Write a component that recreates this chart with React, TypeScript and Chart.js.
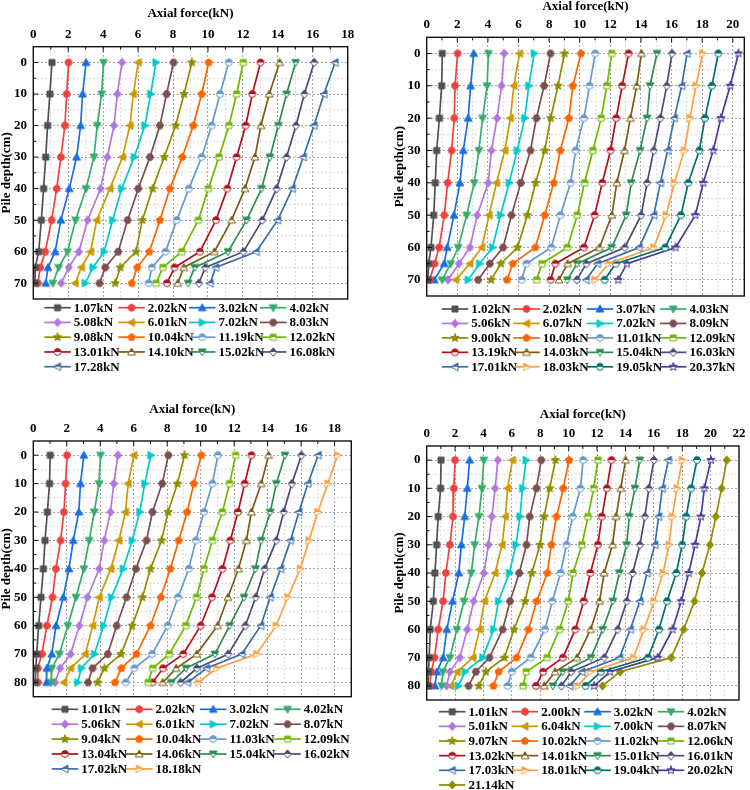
import { useEffect, useRef } from 'react';
import { Chart, registerables } from 'chart.js';

Chart.register(...registerables);

const SERIF = "'Liberation Serif', 'Times New Roman', serif";

// measuring stations along the pile (cm)
const depth70 = [0, 10, 20, 30, 40, 50, 60, 65, 70];
const depth80 = [0, 10, 20, 30, 40, 50, 60, 70, 75, 80];

// pile-top load steps (kN) and axial force profiles (kN), test A
const loadsA = [1.07, 2.02, 3.02, 4.02, 5.08, 6.01, 7.02, 8.03, 9.08, 10.04, 11.19, 12.02, 13.01, 14.10, 15.02, 16.08, 17.28];
const forceA = [
  [1.07, 0.95, 0.82, 0.71, 0.59, 0.46, 0.31, 0.11, 0.10],
  [2.02, 1.91, 1.81, 1.58, 1.34, 1.05, 0.68, 0.40, 0.26],
  [3.02, 2.82, 2.71, 2.48, 2.06, 1.58, 1.25, 0.84, 0.71],
  [4.02, 3.91, 3.66, 3.47, 3.02, 2.42, 1.96, 1.45, 1.12],
  [5.08, 4.81, 4.62, 4.24, 3.85, 3.11, 2.61, 2.03, 1.60],
  [6.01, 5.73, 5.53, 5.11, 4.39, 3.63, 3.28, 2.75, 2.40],
  [7.02, 6.72, 6.39, 5.78, 5.06, 4.54, 4.05, 3.42, 2.97],
  [8.03, 7.63, 7.25, 6.68, 6.01, 5.40, 4.86, 4.12, 3.79],
  [9.08, 8.63, 8.15, 7.50, 6.83, 6.24, 5.88, 4.98, 4.69],
  [10.04, 9.64, 9.16, 8.53, 7.82, 7.25, 6.64, 5.95, 5.64],
  [11.19, 10.69, 10.21, 9.64, 8.91, 8.21, 7.57, 6.79, 6.60],
  [12.02, 11.64, 11.20, 10.63, 10.02, 9.45, 8.50, 7.42, 7.03],
  [13.01, 12.54, 12.16, 11.64, 11.11, 10.46, 9.54, 8.09, 7.65],
  [14.10, 13.51, 13.03, 12.69, 12.12, 11.35, 10.37, 8.61, 8.27],
  [15.02, 14.50, 14.03, 13.55, 13.07, 12.21, 11.15, 9.24, 8.87],
  [16.08, 15.52, 15.04, 14.50, 13.93, 13.11, 12.03, 9.85, 9.48],
  [17.28, 16.64, 16.07, 15.46, 14.83, 13.99, 12.76, 10.44, 10.12],
];

// test B
const loadsB = [1.02, 2.02, 3.07, 4.03, 5.06, 6.07, 7.02, 8.09, 9.00, 10.08, 11.01, 12.09, 13.19, 14.03, 15.04, 16.03, 17.01, 18.03, 19.05, 20.37];
const forceB = [
  [1.02, 0.98, 0.83, 0.65, 0.56, 0.46, 0.28, 0.13, 0.08],
  [2.02, 1.85, 1.80, 1.63, 1.37, 1.15, 0.81, 0.51, 0.20],
  [3.07, 2.87, 2.71, 2.39, 2.17, 1.78, 1.34, 1.14, 0.49],
  [4.03, 3.95, 3.65, 3.41, 3.11, 2.61, 2.06, 1.57, 1.01],
  [5.06, 4.89, 4.60, 4.23, 4.02, 3.30, 2.82, 2.11, 1.39],
  [6.07, 5.69, 5.47, 5.10, 4.56, 4.08, 3.60, 2.82, 1.90],
  [7.02, 6.67, 6.41, 5.91, 5.39, 4.82, 4.30, 3.45, 2.71],
  [8.09, 7.67, 7.17, 6.78, 6.15, 5.54, 4.99, 4.12, 3.36],
  [9.00, 8.58, 8.10, 7.71, 7.12, 6.58, 5.93, 4.84, 4.21],
  [10.08, 9.55, 9.29, 8.73, 8.30, 7.71, 7.10, 5.62, 5.25],
  [11.01, 10.64, 10.27, 9.73, 9.40, 8.73, 8.14, 6.51, 6.21],
  [12.09, 11.77, 11.40, 10.86, 10.31, 9.84, 9.19, 7.53, 7.19],
  [13.19, 12.77, 12.38, 12.01, 11.47, 10.97, 10.27, 8.41, 8.09],
  [14.03, 13.72, 13.31, 12.92, 12.42, 12.10, 11.29, 9.21, 8.64],
  [15.04, 14.59, 14.40, 13.94, 13.36, 13.03, 12.09, 9.82, 9.19],
  [16.03, 15.68, 15.27, 14.83, 14.40, 14.01, 12.94, 10.43, 9.81],
  [17.01, 16.66, 16.18, 15.74, 15.27, 14.83, 13.88, 11.16, 10.42],
  [18.03, 17.59, 17.20, 16.83, 16.18, 15.64, 14.83, 11.88, 10.99],
  [19.05, 18.63, 18.18, 17.81, 17.09, 16.61, 15.58, 12.35, 11.62],
  [20.37, 19.83, 19.22, 18.72, 18.07, 17.55, 16.26, 13.08, 12.51],
];

// test C
const loadsC = [1.01, 2.02, 3.02, 4.02, 5.06, 6.01, 7.02, 8.07, 9.04, 10.04, 11.03, 12.09, 13.04, 14.06, 15.04, 16.02, 17.02, 18.18];
const forceC = [
  [1.01, 0.97, 0.84, 0.70, 0.60, 0.46, 0.32, 0.20, 0.15, 0.12],
  [2.02, 1.93, 1.83, 1.63, 1.35, 1.15, 0.81, 0.51, 0.27, 0.27],
  [3.02, 2.82, 2.72, 2.39, 2.13, 1.79, 1.36, 1.10, 0.81, 0.79],
  [4.02, 3.92, 3.64, 3.34, 3.02, 2.55, 2.06, 1.56, 1.10, 1.08],
  [5.06, 4.81, 4.61, 4.24, 3.94, 3.24, 2.75, 2.23, 1.60, 1.30],
  [6.01, 5.67, 5.51, 5.11, 4.63, 3.94, 3.55, 3.11, 2.23, 1.83],
  [7.02, 6.66, 6.36, 5.91, 5.37, 4.67, 4.20, 3.65, 2.87, 2.65],
  [8.07, 7.70, 7.12, 6.76, 6.13, 5.57, 4.98, 4.45, 3.54, 3.27],
  [9.04, 8.61, 8.05, 7.66, 7.00, 6.52, 5.91, 5.24, 4.25, 3.84],
  [10.04, 9.59, 9.19, 8.69, 8.19, 7.62, 7.00, 6.16, 5.26, 4.88],
  [11.03, 10.70, 10.20, 9.71, 9.29, 8.65, 8.03, 7.10, 6.04, 5.52],
  [12.09, 11.73, 11.30, 10.70, 10.20, 9.75, 9.11, 8.12, 7.13, 6.86],
  [13.04, 12.63, 12.23, 11.77, 11.30, 10.68, 10.00, 8.96, 7.75, 7.13],
  [14.06, 13.62, 13.03, 12.73, 12.26, 11.63, 11.01, 9.76, 8.54, 7.73],
  [15.04, 14.52, 14.16, 13.62, 13.27, 12.59, 11.73, 10.85, 9.12, 8.24],
  [16.02, 15.45, 14.96, 14.52, 13.82, 13.29, 12.67, 11.65, 9.78, 8.80],
  [17.02, 16.41, 15.87, 15.37, 14.78, 14.16, 13.59, 12.46, 10.35, 9.22],
  [18.18, 17.60, 17.00, 16.47, 15.95, 15.21, 14.51, 13.34, 10.95, 9.86],
];

// test D
const loadsD = [1.01, 2.00, 3.02, 4.02, 5.01, 6.04, 7.00, 8.07, 9.07, 10.02, 11.02, 12.06, 13.02, 14.01, 15.01, 16.01, 17.03, 18.01, 19.04, 20.02, 21.14];
const forceD = [
  [1.01, 0.98, 0.81, 0.70, 0.58, 0.47, 0.25, 0.18, 0.12, 0.10],
  [2.00, 1.91, 1.86, 1.63, 1.35, 1.16, 0.81, 0.55, 0.32, 0.21],
  [3.02, 2.86, 2.68, 2.44, 2.26, 1.82, 1.42, 1.16, 0.71, 0.58],
  [4.02, 3.89, 3.68, 3.38, 3.14, 2.63, 2.12, 1.63, 1.14, 1.05],
  [5.01, 4.82, 4.59, 4.35, 4.03, 3.31, 2.86, 2.33, 1.63, 1.40],
  [6.04, 5.70, 5.54, 5.31, 4.82, 4.07, 3.72, 3.26, 2.15, 1.70],
  [7.00, 6.75, 6.57, 6.29, 5.82, 5.05, 4.71, 3.95, 2.70, 2.22],
  [8.07, 7.73, 7.26, 7.03, 6.52, 5.87, 5.35, 4.42, 3.46, 2.95],
  [9.07, 8.66, 8.27, 7.99, 7.40, 6.92, 6.15, 5.47, 4.16, 3.67],
  [10.02, 9.62, 9.15, 8.78, 8.50, 7.75, 7.17, 6.33, 5.07, 4.70],
  [11.02, 10.83, 10.29, 9.85, 9.43, 8.85, 8.33, 7.33, 6.00, 5.70],
  [12.06, 11.76, 11.36, 10.94, 10.31, 9.97, 9.36, 8.49, 7.01, 6.79],
  [13.02, 12.69, 12.34, 12.06, 11.53, 11.06, 10.47, 9.59, 8.20, 7.70],
  [14.01, 13.67, 13.34, 13.09, 12.50, 12.18, 11.55, 10.59, 9.05, 8.28],
  [15.01, 14.67, 14.27, 14.09, 13.57, 13.11, 12.40, 11.57, 9.58, 8.89],
  [16.01, 15.65, 15.37, 15.02, 14.51, 14.09, 13.45, 12.51, 10.19, 9.49],
  [17.03, 16.60, 16.34, 16.07, 15.53, 15.02, 14.34, 13.59, 10.94, 10.08],
  [18.01, 17.63, 17.30, 17.07, 16.65, 16.02, 15.30, 14.57, 11.54, 10.65],
  [19.04, 18.63, 18.28, 18.00, 17.58, 16.93, 16.36, 15.59, 12.27, 11.19],
  [20.02, 19.56, 19.32, 18.91, 18.46, 17.93, 17.32, 16.27, 12.92, 11.79],
  [21.14, 20.77, 20.37, 19.95, 19.39, 18.86, 18.10, 17.22, 13.62, 12.38],
];

// line / symbol colour for each load step
const COLORS = [
  '#515151', '#F14040', '#1A6FDF', '#37AD6B', '#B177DE', '#CC9900', '#00CBCC',
  '#7D4E4E', '#8E8E00', '#FB6501', '#6699CC', '#6FB802', '#B3101B', '#7A5C12',
  '#2C8C55', '#4B4B78', '#3B6EA8', '#FFA040', '#00706C', '#4A3C9A', '#8E8E00',
];
const SHAPES = [
  'square', 'circle', 'up', 'down', 'diamond', 'left', 'right', 'hexagon', 'star', 'pentagon',
  'circle', 'square', 'circle', 'up', 'down', 'diamond', 'left', 'right', 'hexagon', 'star', 'diamond',
];

function polygon(ctx: CanvasRenderingContext2D, n: number, r: number, start: number) {
  for (let k = 0; k < n; k++) {
    const a = start + (k * 2 * Math.PI) / n;
    const px = r * Math.cos(a);
    const py = r * Math.sin(a);
    if (k === 0) ctx.moveTo(px, py);
    else ctx.lineTo(px, py);
  }
  ctx.closePath();
}

function shapePath(ctx: CanvasRenderingContext2D, shape: string) {
  ctx.beginPath();
  switch (shape) {
    case 'square':
      ctx.rect(-3, -3, 6, 6);
      break;
    case 'circle':
      ctx.arc(0, 0, 3.4, 0, Math.PI * 2);
      break;
    case 'up':
      ctx.moveTo(0, -4); ctx.lineTo(3.9, 3); ctx.lineTo(-3.9, 3); ctx.closePath();
      break;
    case 'down':
      ctx.moveTo(0, 4); ctx.lineTo(3.9, -3); ctx.lineTo(-3.9, -3); ctx.closePath();
      break;
    case 'left':
      ctx.moveTo(-4, 0); ctx.lineTo(3, -3.9); ctx.lineTo(3, 3.9); ctx.closePath();
      break;
    case 'right':
      ctx.moveTo(4, 0); ctx.lineTo(-3, -3.9); ctx.lineTo(-3, 3.9); ctx.closePath();
      break;
    case 'diamond':
      ctx.moveTo(0, -4.2); ctx.lineTo(3.6, 0); ctx.lineTo(0, 4.2); ctx.lineTo(-3.6, 0); ctx.closePath();
      break;
    case 'hexagon':
      polygon(ctx, 6, 3.7, 0);
      break;
    case 'pentagon':
      polygon(ctx, 5, 3.8, -Math.PI / 2);
      break;
    case 'star': {
      for (let k = 0; k < 10; k++) {
        const r = k % 2 === 0 ? 4.4 : 1.9;
        const a = -Math.PI / 2 + (k * Math.PI) / 5;
        if (k === 0) ctx.moveTo(r * Math.cos(a), r * Math.sin(a));
        else ctx.lineTo(r * Math.cos(a), r * Math.sin(a));
      }
      ctx.closePath();
      break;
    }
  }
}

function makeMarker(shape: string, color: string, half: boolean): HTMLCanvasElement {
  const c = document.createElement('canvas');
  c.width = 10;
  c.height = 10;
  const ctx = c.getContext('2d')!;
  ctx.translate(5, 5);
  ctx.lineWidth = 1;
  ctx.strokeStyle = color;
  shapePath(ctx, shape);
  if (half) {
    ctx.fillStyle = '#ffffff';
    ctx.fill();
    ctx.save();
    ctx.beginPath();
    ctx.rect(-5, -5, 10, 5);
    ctx.clip();
    shapePath(ctx, shape);
    ctx.fillStyle = color;
    ctx.fill();
    ctx.restore();
    shapePath(ctx, shape);
  } else {
    ctx.fillStyle = color;
    ctx.fill();
  }
  ctx.stroke();
  return c;
}

type PanelSpec = {
  left: number;
  top: number;
  width: number;
  height: number;
  depths: number[];
  loads: number[];
  forces: number[][];
  xMax: number;
  yMax: number;
  pad: { left: number; right: number; bottom: number };
  axisH: number;
  axisW: number;
  titleGap: number;
  legendX: number[];
  legendY: number;
  legendDy: number;
};

const panels: PanelSpec[] = [
  {
    left: 0, top: 0, width: 375, height: 390,
    depths: depth70, loads: loadsA, forces: forceA, xMax: 18, yMax: 75,
    pad: { left: 0, right: 27.3, bottom: 91 }, axisH: 46.7, axisW: 33.3, titleGap: 7.5,
    legendX: [44.3, 118.3, 189, 260], legendY: 307.7, legendDy: 14.75,
  },
  {
    left: 375, top: 0, width: 375, height: 390,
    depths: depth70, loads: loadsB, forces: forceB, xMax: 20.75, yMax: 75,
    pad: { left: 18.5, right: 5, bottom: 94 }, axisH: 37.3, axisW: 33.2, titleGap: 0,
    legendX: [66.7, 138.3, 211.7, 285], legendY: 309, legendDy: 14.45,
  },
  {
    left: 0, top: 390, width: 375, height: 400,
    depths: depth80, loads: loadsC, forces: forceC, xMax: 19, yMax: 85,
    pad: { left: 0, right: 23.7, bottom: 93.3 }, axisH: 51, axisW: 33.3, titleGap: 12.8,
    legendX: [51.7, 126, 200, 274.3], legendY: 319.3, legendDy: 14.9,
  },
  {
    left: 375, top: 390, width: 375, height: 400,
    depths: depth80, loads: loadsD, forces: forceD, xMax: 22, yMax: 85,
    pad: { left: 18.5, right: 7.3, bottom: 90 }, axisH: 56, axisW: 33.2, titleGap: 17.8,
    legendX: [64, 136.7, 209.3, 282.7], legendY: 321.7, legendDy: 14.65,
  },
];

const MAJOR_GRID = '#a4a4a4';
const MINOR_GRID = '#dedede';
const CLEAR = 'rgba(0,0,0,0)';

function Panel({ spec }: { spec: PanelSpec }) {
  const ref = useRef<HTMLCanvasElement>(null);

  useEffect(() => {
    const canvas = ref.current;
    if (!canvas) return;
    const markers = spec.loads.map((_, i) => makeMarker(SHAPES[i], COLORS[i], i >= 10 && i <= 19));

    // closed frame plus inward tick marks on the top and left axes
    const framePlugin = {
      id: 'frame',
      afterDatasetsDraw(chart: any) {
        const { ctx, chartArea: a, scales } = chart;
        ctx.save();
        ctx.strokeStyle = '#111';
        ctx.lineWidth = 1;
        ctx.beginPath();
        for (let v = 1; v < spec.xMax; v++) {
          const px = scales.x.getPixelForValue(v);
          const len = v % 2 === 0 ? 5 : 3;
          ctx.moveTo(px, a.top);
          ctx.lineTo(px, a.top + len);
        }
        for (let v = 0; v < spec.yMax; v += 5) {
          const py = scales.y.getPixelForValue(v);
          const len = v % 10 === 0 ? 5 : 3;
          ctx.moveTo(a.left, py);
          ctx.lineTo(a.left + len, py);
        }
        ctx.stroke();
        ctx.lineWidth = 1.4;
        ctx.strokeRect(a.left, a.top, a.right - a.left, a.bottom - a.top);
        ctx.restore();
      },
    };

    // four-column legend below the plot
    const legendPlugin = {
      id: 'gridLegend',
      afterDraw(chart: any) {
        const ctx = chart.ctx as CanvasRenderingContext2D;
        ctx.save();
        ctx.font = `bold 13px ${SERIF}`;
        ctx.textBaseline = 'middle';
        ctx.textAlign = 'left';
        spec.loads.forEach((load, i) => {
          const x0 = spec.legendX[i % 4];
          const y = spec.legendY + Math.floor(i / 4) * spec.legendDy;
          ctx.strokeStyle = COLORS[i];
          ctx.lineWidth = 1.7;
          ctx.beginPath();
          ctx.moveTo(x0, y);
          ctx.lineTo(x0 + 26.5, y);
          ctx.stroke();
          const m = markers[i];
          ctx.drawImage(m, x0 + 13.25 - m.width / 2, y - m.height / 2);
          ctx.fillStyle = '#000';
          ctx.fillText(`${load.toFixed(2)}kN`, x0 + 29.5, y + 0.5);
        });
        ctx.restore();
      },
    };

    const tickFont = { family: SERIF, size: 13, weight: 'bold' as const };
    const titleFont = { family: SERIF, size: 13, weight: 'bold' as const, lineHeight: 1 };

    const chart = new Chart(canvas, {
      type: 'scatter',
      data: {
        datasets: spec.loads.map((load, i) => ({
          label: `${load.toFixed(2)}kN`,
          data: spec.depths.map((d, j) => ({ x: spec.forces[i][j], y: d })),
          showLine: true,
          borderColor: COLORS[i],
          backgroundColor: COLORS[i],
          borderWidth: 1.7,
          pointStyle: markers[i] as any,
          pointRadius: 4,
          pointHoverRadius: 4,
        })),
      },
      options: {
        animation: false,
        responsive: false,
        devicePixelRatio: 1,
        events: [],
        layout: { padding: { left: spec.pad.left, top: 0, right: spec.pad.right, bottom: spec.pad.bottom } },
        plugins: { legend: { display: false }, tooltip: { enabled: false } },
        scales: {
          x: {
            type: 'linear',
            position: 'top',
            min: 0,
            max: spec.xMax,
            ticks: {
              stepSize: 1,
              autoSkip: false,
              includeBounds: false,
              maxRotation: 0,
              padding: 4.5,
              color: '#000',
              font: tickFont,
              callback: (v: any) => (Number.isInteger(v) && v % 2 === 0 ? String(v) : ''),
            },
            grid: {
              drawTicks: false,
              lineWidth: 1,
              color: (c: any) => {
                const v = c.tick ? c.tick.value : 0;
                if (v <= 0 || v >= spec.xMax || !Number.isInteger(v)) return CLEAR;
                return v % 2 === 0 ? MAJOR_GRID : MINOR_GRID;
              },
            },
            border: { display: false, dash: [2, 2] },
            title: { display: true, text: 'Axial force(kN)', color: '#000', font: titleFont, padding: { top: spec.titleGap, bottom: 0 } },
            afterFit: (s: any) => {
              s.height = spec.axisH;
            },
          },
          y: {
            type: 'linear',
            position: 'left',
            reverse: true,
            min: -5,
            max: spec.yMax,
            ticks: {
              stepSize: 5,
              autoSkip: false,
              padding: 6.3,
              color: '#000',
              font: tickFont,
              callback: (v: any) => (v >= 0 && v % 10 === 0 ? String(v) : ''),
            },
            grid: {
              drawTicks: false,
              lineWidth: 1,
              color: (c: any) => {
                const v = c.tick ? c.tick.value : 0;
                if (v <= -5 || v >= spec.yMax) return CLEAR;
                return v % 10 === 0 ? MAJOR_GRID : MINOR_GRID;
              },
            },
            border: { display: false, dash: [2, 2] },
            title: { display: true, text: 'Pile depth(cm)', color: '#000', font: titleFont, padding: { top: 0, bottom: 0 } },
            afterFit: (s: any) => {
              s.width = spec.axisW;
            },
          },
        },
      },
      plugins: [framePlugin, legendPlugin],
    } as any);

    return () => chart.destroy();
  }, [spec]);

  return (
    <canvas
      ref={ref}
      width={spec.width}
      height={spec.height}
      style={{ position: 'absolute', left: spec.left, top: spec.top, width: spec.width, height: spec.height }}
    />
  );
}

export default function App() {
  return (
    <div style={{ position: 'absolute', left: 0, top: 0, width: 750, height: 790, background: '#fff', overflow: 'hidden' }}>
      {panels.map((p, i) => (
        <Panel key={i} spec={p} />
      ))}
    </div>
  );
}
